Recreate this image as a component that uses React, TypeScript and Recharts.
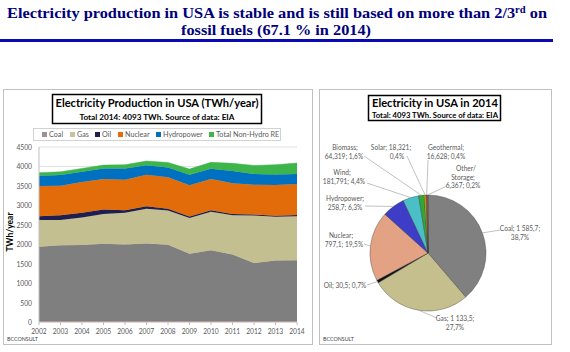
import React from 'react';
import { AreaChart, Area, XAxis, YAxis, CartesianGrid, PieChart, Pie, Cell } from 'recharts';

// ---------- data: left chart (TWh/year) ----------
const years = ['2002', '2003', '2004', '2005', '2006', '2007', '2008', '2009', '2010', '2011', '2012', '2013', '2014'];
const coal = [1933, 1974, 1978, 2013, 1991, 2016, 1986, 1756, 1847, 1733, 1514, 1581, 1586];
const gas = [691, 649, 710, 761, 816, 897, 883, 921, 988, 1013, 1226, 1125, 1134];
const oil = [94, 119, 121, 122, 64, 66, 46, 39, 37, 30, 23, 27, 30];
const nuclear = [780, 764, 789, 782, 787, 806, 806, 799, 807, 790, 769, 789, 797];
const hydro = [264, 276, 268, 270, 289, 247, 254, 273, 260, 319, 276, 269, 259];
const nonHydroRE = [79, 79, 83, 87, 96, 105, 126, 144, 167, 194, 218, 253, 280];
const yTicks = [0, 500, 1000, 1500, 2000, 2500, 3000, 3500, 4000, 4500];

const seriesNames = ['Coal', 'Gas', 'Oil', 'Nuclear', 'Hydropower', 'Total Non-Hydro RE'];
const seriesKeys = ['coal', 'gas', 'oil', 'nuclear', 'hydro', 'nonHydroRE'];
const seriesValues = [coal, gas, oil, nuclear, hydro, nonHydroRE];
const seriesColors = ['#7f7f7f', '#c4bf91', '#1f1f4f', '#e36c0a', '#0070c0', '#3db54a'];
const legendColors = ['#9e8f93', '#c8c39e', '#1f1f4f', '#e36c0a', '#0070c0', '#3db54a'];

// ---------- data: right chart (2014, TWh) ----------
const pieNames = ['Coal', 'Gas', 'Oil', 'Nuclear', 'Hydropower', 'Wind', 'Biomass', 'Solar', 'Geothermal', 'Other/Storage'];
const pieValues = [1585.7, 1133.5, 30.5, 797.1, 258.7, 181.791, 64.319, 18.321, 16.628, 6.367];
const pieColors = ['#808080', '#c4bf8c', '#111111', '#e3a283', '#3d3dc8', '#4bbfc8', '#2fa838', '#e8c000', '#a0522d', '#f07020'];
const pieLabels = [
  ['Coal; 1 585,7;', '38,7%'],
  ['Gas; 1 133,5;', '27,7%'],
  ['Oil; 30,5; 0,7%'],
  ['Nuclear;', '797,1; 19,5%'],
  ['Hydropower;', '258,7; 6,3%'],
  ['Wind;', '181,791; 4,4%'],
  ['Biomass;', '64,319; 1,6%'],
  ['Solar; 18,321;', '0,4%'],
  ['Geothermal;', '16,628; 0,4%'],
  ['Other/', 'Storage;', '6,367; 0,2%'],
];

// label placement relative to pie centre (layout, not data)
const labelLayout = [
  { tx: [92, 92], ty: -25, c: [72, -23] },
  { tx: [27, 27], ty: 65, c: [9, 65] },
  { tx: [-83], ty: 32, c: [-61, 32] },
  { tx: [-87, -84], ty: -18, c: [-64, -9] },
  { tx: [-83, -83], ty: -55, c: [-63, -47] },
  { tx: [-86, -84], ty: -81, c: [-61, -70] },
  { tx: [-83, -84], ty: -106, c: [-64, -97] },
  { tx: [-37, -31], ty: -106, c: [-21, -97] },
  { tx: [18, 18], ty: -106, c: [0, -93] },
  { tx: [38, 35, 35], ty: -85, c: [19, -67] },
];

const tableData = years.map((y, i) => {
  const row: any = { year: y };
  seriesKeys.forEach((k, j) => { row[k] = seriesValues[j][i]; });
  return row;
});
const pieData = pieNames.map((n, i) => ({ name: n, value: pieValues[i] }));

const W = 570;
const H = 352;
const SANS = 'Lato, "Noto Sans", sans-serif';
const SERIF = '"Liberation Serif", "Times New Roman", serif';
const RAD = Math.PI / 180;

const XTick = (p: any) => (
  <text
    x={p.x}
    y={p.y}
    dy={6}
    textAnchor="middle"
    fontFamily={SANS}
    fontSize={8}
    fill="#595959"
    textLength={15.5}
    lengthAdjust="spacingAndGlyphs"
  >
    {p.payload.value}
  </text>
);

const YTick = (p: any) => {
  const s = String(p.payload.value);
  return (
    <text
      x={p.x}
      y={p.y}
      textAnchor="end"
      dominantBaseline="central"
      fontFamily={SANS}
      fontSize={8}
      fill="#595959"
      textLength={s.length * 3.9}
      lengthAdjust="spacingAndGlyphs"
    >
      {s}
    </text>
  );
};

const renderPieLabel = (p: any) => {
  const { cx, cy, midAngle, outerRadius, index } = p;
  const L = labelLayout[index];
  const ex = cx + outerRadius * Math.cos(-midAngle * RAD);
  const ey = cy + outerRadius * Math.sin(-midAngle * RAD);
  return (
    <g key={`lbl-${index}`}>
      <line x1={ex} y1={ey} x2={cx + L.c[0]} y2={cy + L.c[1]} stroke="#a6a6a6" strokeWidth={0.7} />
      {pieLabels[index].map((t, j) => (
        <text
          key={j}
          x={cx + L.tx[j]}
          y={cy + L.ty + j * 8.5}
          textAnchor="middle"
          dominantBaseline="central"
          fontFamily={SANS}
          fontSize={6.6}
          fill="#595959"
        >
          {t}
        </text>
      ))}
    </g>
  );
};

const legendX = [42, 70, 95, 118, 156, 209];

export default function App() {
  return (
    <div style={{ position: 'absolute', left: 0, top: 0, width: W, height: H, background: '#fff', overflow: 'hidden' }}>
      {/* decorations */}
      <svg width={W} height={H} style={{ position: 'absolute', left: 0, top: 0 }}>
        <text x={277} y={17.5} textAnchor="middle" fontFamily={SERIF} fontWeight="bold" fontSize={15.5} fill="#00007a" textLength={540} lengthAdjust="spacingAndGlyphs">
          Electricity production in USA is stable and is still based on more than 2/3
          <tspan fontSize={10} dy={-5}>rd</tspan>
          <tspan dy={5}> on</tspan>
        </text>
        <text x={276} y={34.5} textAnchor="middle" fontFamily={SERIF} fontWeight="bold" fontSize={15.5} fill="#00007a" textLength={190} lengthAdjust="spacingAndGlyphs">
          fossil fuels (67.1 % in 2014)
        </text>
        <rect x={0} y={39} width={553} height={3} fill="#0a0ab4" />

        {/* left panel */}
        <rect x={3.5} y={89.5} width={309} height={255} fill="#fff" stroke="#c0c0c0" strokeWidth={1} />
        <rect x={52.5} y={94.5} width={209} height={29} fill="#fff" stroke="#000" strokeWidth={1.5} />
        <text x={157} y={107} textAnchor="middle" fontFamily={SANS} fontWeight="bold" fontSize={12} fill="#000" textLength={203} lengthAdjust="spacingAndGlyphs">
          Electricity Production in USA (TWh/year)
        </text>
        <text x={157} y={119.5} textAnchor="middle" fontFamily={SANS} fontWeight="bold" fontSize={8} fill="#000" textLength={155} lengthAdjust="spacingAndGlyphs">
          Total 2014: 4093 TWh. Source of data: EIA
        </text>
        <rect x={33.5} y={128.5} width={247} height={12} fill="#fff" stroke="#c8c8c8" strokeWidth={0.8} />
        {seriesNames.map((n, i) => (
          <g key={n}>
            <rect x={legendX[i]} y={132} width={5} height={5} fill={legendColors[i]} />
            <text x={legendX[i] + 7} y={137.2} fontFamily={SANS} fontSize={7.2} fill="#595959">{n}</text>
          </g>
        ))}
        <text transform="translate(13,232) rotate(-90)" textAnchor="middle" fontFamily={SANS} fontWeight="bold" fontSize={8.5} fill="#000">
          TWh/year
        </text>
        <text x={7} y={341} fontFamily={SANS} fontSize={5.5} fill="#404040" textLength={31} lengthAdjust="spacingAndGlyphs">BCCONSULT</text>

        {/* right panel */}
        <rect x={319.5} y={89.5} width={232} height={255} fill="#fff" stroke="#c0c0c0" strokeWidth={1} />
        <rect x={368.5} y={95.5} width={132} height={25} fill="#fff" stroke="#000" strokeWidth={1.5} />
        <text x={435} y={107} textAnchor="middle" fontFamily={SANS} fontWeight="bold" fontSize={12} fill="#000" textLength={126} lengthAdjust="spacingAndGlyphs">
          Electricity in USA in 2014
        </text>
        <text x={435} y={118} textAnchor="middle" fontFamily={SANS} fontWeight="bold" fontSize={7.5} fill="#000" textLength={126} lengthAdjust="spacingAndGlyphs">
          Total: 4093 TWh. Source of data: EIA
        </text>
        <text x={323} y={341} fontFamily={SANS} fontSize={5.5} fill="#404040" textLength={31} lengthAdjust="spacingAndGlyphs">BCCONSULT</text>
      </svg>

      {/* left: stacked area chart */}
      <div style={{ position: 'absolute', left: 0, top: 0 }}>
        <AreaChart width={W} height={H} data={tableData} margin={{ top: 147, right: 273, bottom: 10, left: 9 }}>
          <CartesianGrid vertical={false} stroke="#d9d9d9" strokeWidth={0.8} />
          <XAxis
            dataKey="year"
            height={20}
            tick={XTick}
            tickSize={3}
            tickMargin={3}
            tickLine={{ stroke: '#bfbfbf' }}
            axisLine={{ stroke: '#d9b9b9' }}
            interval={0}
          />
          <YAxis
            width={30}
            domain={[0, 4500]}
            ticks={yTicks}
            tick={YTick}
            tickLine={false}
            tickSize={4}
            tickMargin={3}
            axisLine={{ stroke: '#bfbfbf' }}
            interval={0}
          />
          {seriesKeys.map((k, i) => (
            <Area
              key={k}
              type="linear"
              dataKey={k}
              name={seriesNames[i]}
              stackId="1"
              stroke={seriesColors[i]}
              strokeWidth={0.5}
              fill={seriesColors[i]}
              fillOpacity={1}
              dot={false}
              activeDot={false}
              isAnimationActive={false}
            />
          ))}
        </AreaChart>
      </div>

      {/* right: pie chart */}
      <div style={{ position: 'absolute', left: 0, top: 0 }}>
        <PieChart width={W} height={H} margin={{ top: 0, right: 0, bottom: 0, left: 0 }}>
          <Pie
            data={pieData}
            dataKey="value"
            nameKey="name"
            cx={428}
            cy={253}
            outerRadius={58}
            startAngle={90}
            endAngle={-270}
            stroke="#3a3a3a"
            strokeWidth={0.4}
            label={renderPieLabel}
            labelLine={false}
            isAnimationActive={false}
          >
            {pieData.map((d, i) => (
              <Cell key={d.name} fill={pieColors[i]} />
            ))}
          </Pie>
        </PieChart>
      </div>
    </div>
  );
}
